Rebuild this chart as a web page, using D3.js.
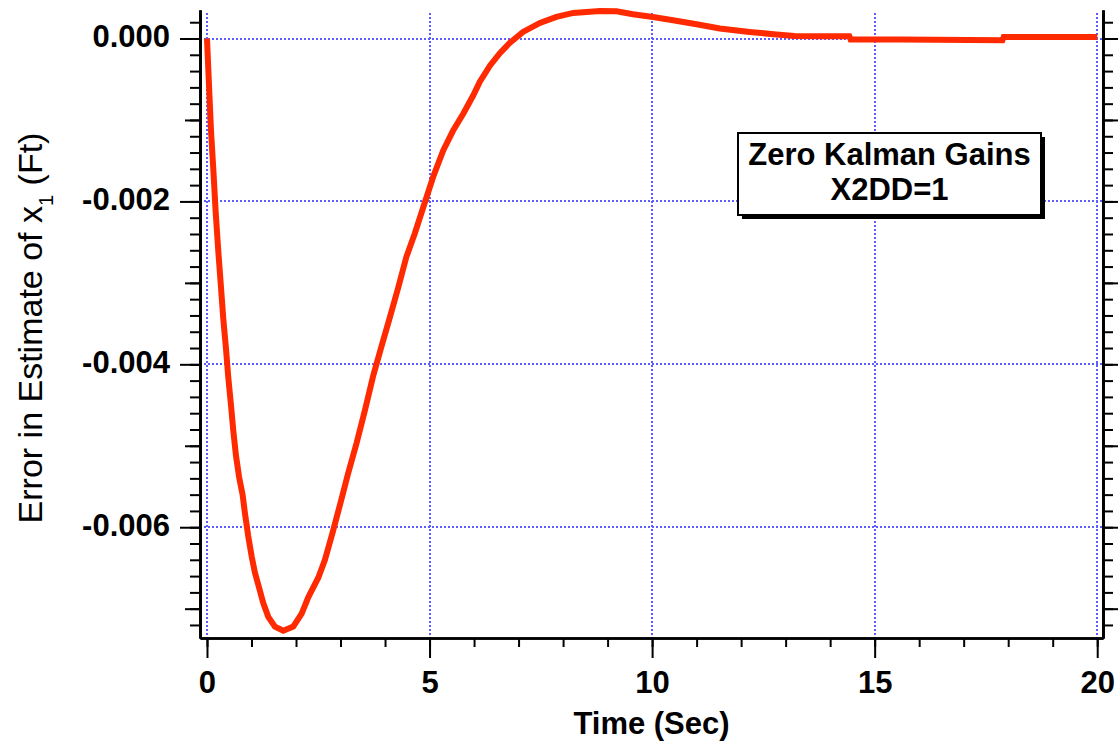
<!DOCTYPE html>
<html>
<head>
<meta charset="utf-8">
<script src="https://cdn.jsdelivr.net/npm/d3@7"></script>
<style>
  body { margin: 0; background: #fff; }
  svg { display: block; }
</style>
</head>
<body>
<svg id="chart" width="1118" height="742"></svg>
<script>
// Estimation error of x1 with zero Kalman gains (X2DD = 1)
const timeSec = [0, 0.045, 0.09, 0.146, 0.195, 0.254, 0.314, 0.366, 0.427, 0.478,
  0.539, 0.59, 0.651, 0.72, 0.80, 0.853, 0.927, 1.004, 1.078, 1.174,
  1.264, 1.377, 1.527, 1.713, 1.938, 2.127, 2.275, 2.50, 2.65, 2.82,
  3.0, 3.17, 3.36, 3.55, 3.73, 3.92, 4.11, 4.30, 4.48, 4.67,
  4.89, 5.08, 5.31, 5.53, 5.76, 5.98, 6.13, 6.36, 6.58, 6.80,
  7.10, 7.48, 7.85, 8.23, 8.83, 9.20, 9.57, 10.02, 10.47, 11.0,
  11.52, 12.19, 12.79, 13.2, 13.76, 14.43, 14.46, 15.56, 17.87, 17.9, 20];
const errorFt = [0, -0.00057, -0.00113, -0.00164, -0.00213, -0.00261, -0.00305, -0.00344, -0.00381, -0.00416,
  -0.00450, -0.00481, -0.00512, -0.00538, -0.00560, -0.00583, -0.00611, -0.00636, -0.00656, -0.00675,
  -0.00693, -0.00710, -0.00722, -0.00727, -0.00722, -0.00706, -0.00686, -0.00662, -0.00640, -0.00607,
  -0.00570, -0.00534, -0.00497, -0.00456, -0.00415, -0.00378, -0.00342, -0.00305, -0.00268, -0.00239,
  -0.00202, -0.00170, -0.00137, -0.00113, -0.00092, -0.00070, -0.00053, -0.00033, -0.00018, -0.000054,
  0.000081, 0.000191, 0.000265, 0.000314, 0.000339, 0.000335, 0.000298, 0.000265, 0.000225, 0.000175,
  0.000123, 0.000081, 0.000049, 0.000030, 0.000028, 0.000028, -0.000012, -0.000012, -0.000020, 0.000020, 0.000020];

const xMajorTicks = [0, 5, 10, 15, 20];
const yMajorTicks = [0, -0.002, -0.004, -0.006];
const legendLines = ["Zero Kalman Gains", "X2DD=1"];
const xTitle = "Time (Sec)";

const FONT = "'Liberation Sans', Arial, Helvetica, sans-serif";
const svg = d3.select("#chart");

const plot = { left: 200, right: 1103, top: 10, bottom: 638 };
const x = d3.scaleLinear().domain([-0.157, 20.13]).range([plot.left, plot.right]);
const y = d3.scaleLinear().domain([-0.00736, 0.00035]).range([plot.bottom, plot.top]);

// dotted grid at the major ticks
const grid = svg.append("g").attr("stroke", "#5c5cff").attr("stroke-width", 2)
  .attr("stroke-dasharray", "2,2").attr("shape-rendering", "crispEdges");
grid.selectAll("line.vx").data(xMajorTicks).join("line")
  .attr("x1", d => Math.round(x(d))).attr("x2", d => Math.round(x(d)))
  .attr("y1", plot.top + 3).attr("y2", plot.bottom);
grid.selectAll("line.hy").data(yMajorTicks).join("line")
  .attr("x1", plot.left).attr("x2", plot.right)
  .attr("y1", d => Math.round(y(d))).attr("y2", d => Math.round(y(d)));

// tick sets
const xMinor = d3.range(0, 21);
const yMinor = d3.range(-36, 2).map(i => +(i * 0.0002).toFixed(4));
const yMid = [-0.001, -0.003, -0.005, -0.007];

function styleAxis(g) {
  g.selectAll("path.domain").attr("stroke", "#000").attr("stroke-width", 2.5);
  g.selectAll(".tick line").attr("stroke", "#000").attr("stroke-width", 2);
  g.selectAll("text").attr("font-family", FONT).attr("font-weight", "bold")
    .attr("font-size", 31).attr("fill", "#000");
}

// bottom axis
const bx = svg.append("g").attr("transform", `translate(0,${plot.bottom})`);
bx.append("g").call(d3.axisBottom(x).tickValues(xMinor).tickSize(9).tickSizeOuter(0).tickFormat("")).call(styleAxis);
bx.append("g").call(d3.axisBottom(x).tickValues(xMajorTicks).tickSize(20).tickSizeOuter(0)
  .tickPadding(13).tickFormat(d3.format("d"))).call(styleAxis);

// left axis
const ly = svg.append("g").attr("transform", `translate(${plot.left},0)`);
ly.append("g").call(d3.axisLeft(y).tickValues(yMinor).tickSize(10).tickSizeOuter(0).tickFormat("")).call(styleAxis);
ly.append("g").call(d3.axisLeft(y).tickValues(yMid).tickSize(15).tickSizeOuter(0).tickFormat("")).call(styleAxis);
ly.append("g").call(d3.axisLeft(y).tickValues(yMajorTicks).tickSize(20).tickSizeOuter(0)
  .tickPadding(10).tickFormat(d => d.toFixed(3))).call(styleAxis);
ly.selectAll("text").attr("dy", "0.26em");

// right axis (mirrored ticks, no labels)
const ry = svg.append("g").attr("transform", `translate(${plot.right},0)`);
ry.append("g").call(d3.axisRight(y).tickValues(yMinor).tickSize(10).tickSizeOuter(0).tickFormat("")).call(styleAxis);
ry.append("g").call(d3.axisRight(y).tickValues(yMid).tickSize(15).tickSizeOuter(0).tickFormat("")).call(styleAxis);
ry.append("g").call(d3.axisRight(y).tickValues(yMajorTicks).tickSize(20).tickSizeOuter(0).tickFormat("")).call(styleAxis);

// error curve
const pts = timeSec.map((t, i) => ({ t, v: errorFt[i] }));
svg.append("path").datum(pts)
  .attr("fill", "none").attr("stroke", "#ff2a00").attr("stroke-width", 6)
  .attr("stroke-linejoin", "miter")
  .attr("d", d3.line().x(d => x(d.t)).y(d => y(d.v)));

// axis titles
svg.append("text").attr("x", (plot.left + plot.right) / 2).attr("y", 734)
  .attr("text-anchor", "middle").attr("font-family", FONT).attr("font-weight", "bold")
  .attr("font-size", 31).text(xTitle);

const yt = svg.append("text")
  .attr("transform", `translate(42,${(plot.top + plot.bottom) / 2 + 4}) rotate(-90)`)
  .attr("text-anchor", "middle").attr("font-family", FONT).attr("font-size", 34);
yt.append("tspan").text("Error in Estimate of x");
yt.append("tspan").attr("font-size", 20).attr("baseline-shift", "sub").text("1");
yt.append("tspan").text(" (Ft)");

// legend box with drop shadow
const box = { x: 738, y: 133, w: 303, h: 82 };
svg.append("rect").attr("x", box.x + 4).attr("y", box.y + 4).attr("width", box.w).attr("height", box.h)
  .attr("fill", "#000");
svg.append("rect").attr("x", box.x).attr("y", box.y).attr("width", box.w).attr("height", box.h)
  .attr("fill", "#fff").attr("stroke", "#000").attr("stroke-width", 2);
svg.append("g").selectAll("text").data(legendLines).join("text")
  .attr("x", box.x + box.w / 2).attr("y", (d, i) => 165 + i * 35)
  .attr("text-anchor", "middle").attr("font-family", FONT).attr("font-weight", "bold")
  .attr("font-size", 31).text(d => d);
</script>
</body>
</html>
